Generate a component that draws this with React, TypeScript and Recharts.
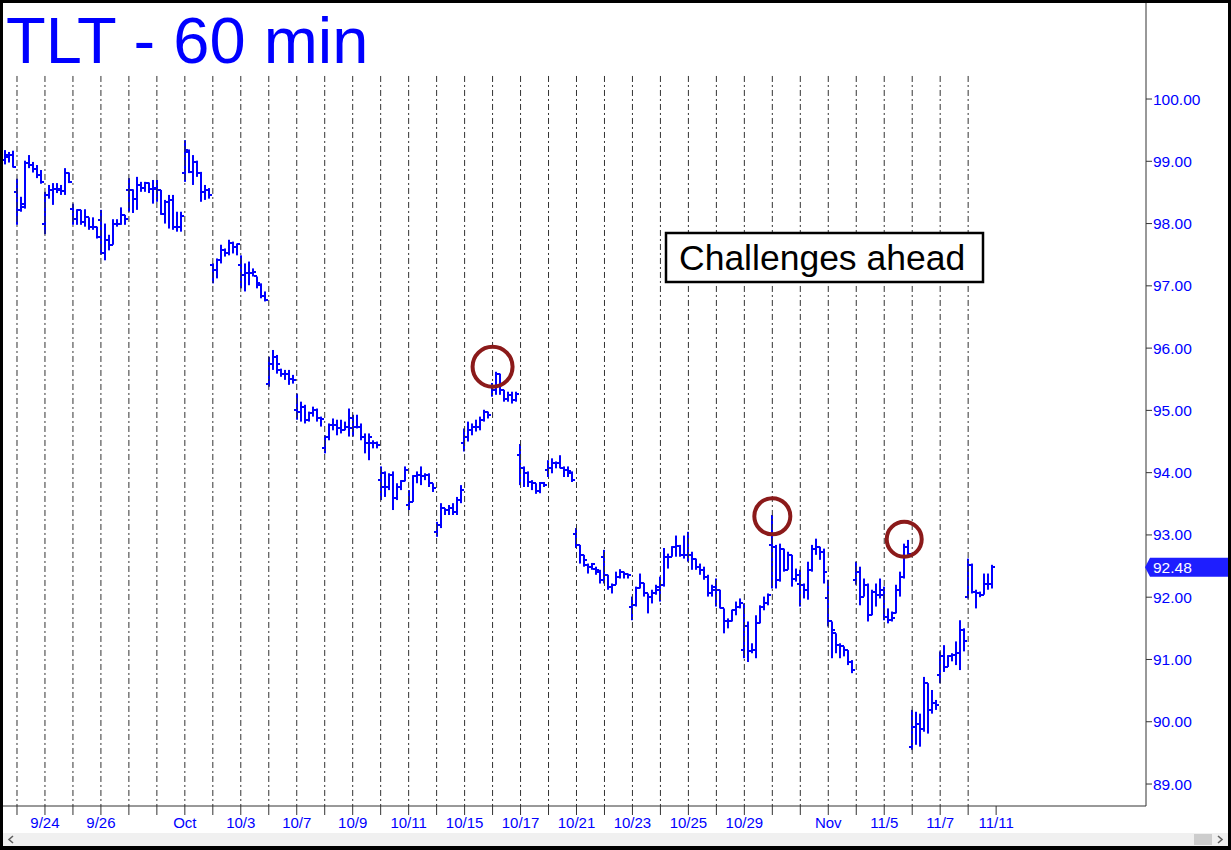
import React from 'react';
import { ComposedChart, Bar, XAxis, YAxis, ReferenceLine, ReferenceDot } from 'recharts';

const FONT = '"Liberation Sans", Arial, sans-serif';
const BLUE = '#0000ff';

// trading days on the axis (first one is 9/23; 3 bars of 9/20 precede it)
const dayDates = ['9/23','9/24','9/25','9/26','9/27','9/30','10/1','10/2','10/3','10/4','10/7','10/8','10/9','10/10','10/11','10/14','10/15','10/16','10/17','10/18','10/21','10/22','10/23','10/24','10/25','10/28','10/29','10/30','10/31','11/1','11/4','11/5','11/6','11/7','11/8','11/11'];
const axisLabels = ['','9/24','','9/26','','','Oct','','10/3','','10/7','','10/9','','10/11','','10/15','','10/17','','10/21','','10/23','','10/25','','10/29','','','Nov','','11/5','','11/7','','11/11'];

const opens = [
99.02,99.07,99.10,
98.50,98.22,98.27,98.97,98.94,98.87,98.78,
97.99,98.46,98.54,98.55,98.54,98.53,98.81,
98.24,98.08,98.21,98.03,98.10,97.94,97.95,
98.06,97.52,97.74,97.66,98.00,98.00,98.14,
98.54,98.54,98.40,98.62,98.57,98.65,98.55,
98.57,98.54,98.16,98.34,98.38,97.95,97.95,
98.81,99.15,98.83,98.99,98.81,98.51,98.54,
97.34,97.26,97.41,97.58,97.52,97.68,97.63,
97.34,97.17,97.20,97.20,97.15,97.01,96.83,
95.43,95.75,95.86,95.65,95.59,95.59,95.51,
95.01,94.98,95.06,94.85,94.95,95.01,94.87,
94.39,94.58,94.77,94.77,94.71,94.68,94.73,
94.87,94.74,94.73,94.58,94.47,94.47,94.47,
93.88,93.77,93.77,93.96,93.59,93.77,93.86,
93.48,93.53,93.94,93.96,93.94,93.96,93.83,
93.05,93.16,93.43,93.40,93.43,93.37,93.56,
94.47,94.58,94.68,94.73,94.74,94.85,94.98,
95.38,95.33,95.59,95.33,95.19,95.25,95.17,
94.28,94.07,93.99,93.85,93.83,93.70,93.83,
94.04,94.07,94.15,94.15,94.07,94.04,93.99,
93.02,92.84,92.68,92.52,92.49,92.46,92.41,
92.65,92.36,92.17,92.20,92.33,92.41,92.38,
91.85,91.87,92.14,92.23,92.06,92.01,92.06,
92.17,92.20,92.65,92.65,92.81,92.82,92.68,
92.68,92.68,92.62,92.49,92.44,92.33,92.06,
92.17,92.12,91.82,91.61,91.61,91.80,91.85,
91.16,91.53,91.13,91.15,91.58,91.85,91.90,
92.84,92.81,92.28,92.78,92.44,92.68,92.30,
92.22,92.20,92.12,92.44,92.78,92.81,92.73,
91.98,91.61,91.42,91.23,91.21,91.15,90.96,
92.28,92.41,92.01,92.20,91.71,92.09,92.04,
92.12,91.69,91.63,91.74,92.12,92.33,92.81,
89.60,89.92,89.97,89.89,90.62,90.19,90.30,
90.75,91.05,90.88,91.05,91.07,91.10,91.47,
92.00,92.52,92.09,92.06,92.04,92.22,92.22
];
const highs = [
99.18,99.15,99.17,
98.72,98.43,99.01,99.10,98.99,98.94,98.86,
98.51,98.62,98.65,98.65,98.62,98.89,98.82,
98.32,98.23,98.22,98.23,98.10,98.10,97.95,
98.22,98.00,97.82,98.07,98.07,98.26,98.14,
98.73,98.55,98.75,98.67,98.67,98.66,98.70,
98.70,98.54,98.38,98.46,98.46,98.19,98.19,
99.34,99.19,99.10,99.01,98.83,98.62,98.57,
97.36,97.44,97.66,97.60,97.74,97.71,97.68,
97.49,97.36,97.39,97.28,97.15,97.04,96.91,
95.86,95.97,95.89,95.67,95.65,95.65,95.57,
95.27,95.14,95.09,94.98,95.06,95.03,94.90,
94.60,94.79,94.87,94.85,94.85,94.82,95.03,
94.93,94.93,94.79,94.63,94.63,94.52,94.50,
94.10,94.02,93.99,94.02,93.83,93.88,94.10,
93.72,93.96,94.02,94.10,93.99,93.99,93.83,
93.21,93.51,93.43,93.48,93.51,93.61,93.80,
94.71,94.82,94.79,94.85,94.90,95.01,94.98,
95.44,95.62,95.59,95.33,95.30,95.30,95.30,
94.46,94.10,94.02,93.88,93.83,93.85,93.85,
94.20,94.23,94.18,94.28,94.10,94.10,94.02,
93.11,92.84,92.68,92.54,92.55,92.49,92.44,
92.76,92.36,92.22,92.41,92.45,92.41,92.38,
92.01,92.17,92.38,92.23,92.06,92.12,92.20,
92.33,92.79,92.70,92.82,92.99,92.84,92.99,
93.05,92.73,92.62,92.54,92.49,92.36,92.20,
92.30,92.12,91.82,91.66,91.80,91.93,91.98,
91.90,91.61,91.26,91.71,91.87,92.01,92.06,
93.32,92.84,92.86,92.78,92.73,92.68,92.46,
92.44,92.22,92.57,92.84,92.94,92.81,92.78,
92.28,91.61,91.42,91.26,91.21,91.15,90.99,
92.57,92.49,92.30,92.22,92.12,92.22,92.30,
92.17,91.82,91.77,92.20,92.41,92.86,92.92,
90.19,90.16,90.13,90.72,90.62,90.51,90.35,
91.13,91.23,91.07,91.10,91.29,91.63,91.50,
92.62,92.54,92.12,92.09,92.38,92.38,92.52
];
const lows = [
98.95,98.98,98.90,
97.98,98.19,98.24,98.89,98.82,98.73,98.64,
97.83,98.40,98.30,98.49,98.46,98.46,98.65,
97.98,97.98,97.98,97.95,97.90,97.90,97.76,
97.50,97.41,97.57,97.66,97.95,97.98,97.98,
98.19,98.17,98.22,98.51,98.51,98.49,98.32,
98.35,98.14,98.00,97.92,97.90,97.87,97.87,
98.67,98.81,98.62,98.75,98.35,98.38,98.40,
97.04,97.12,97.36,97.47,97.49,97.52,97.49,
96.96,96.91,97.01,97.15,96.96,96.80,96.75,
95.38,95.65,95.59,95.54,95.49,95.41,95.43,
94.85,94.82,94.79,94.82,94.90,94.82,94.74,
94.31,94.52,94.68,94.60,94.63,94.68,94.58,
94.58,94.71,94.52,94.31,94.20,94.39,94.39,
93.56,93.61,93.72,93.40,93.56,93.72,93.86,
93.40,93.53,93.83,93.80,93.88,93.77,93.69,
92.97,93.11,93.32,93.32,93.32,93.32,93.51,
94.34,94.50,94.60,94.66,94.68,94.82,94.87,
95.22,95.25,95.25,95.14,95.14,95.11,95.14,
93.80,93.77,93.77,93.72,93.66,93.67,93.77,
93.93,93.99,94.07,94.07,93.93,93.93,93.85,
92.79,92.54,92.49,92.38,92.44,92.36,92.22,
92.22,92.12,92.06,92.20,92.30,92.30,92.30,
91.63,91.85,92.14,92.01,91.74,91.90,92.04,
91.93,92.17,92.46,92.65,92.65,92.65,92.62,
92.57,92.44,92.44,92.36,92.28,92.01,92.01,
91.85,91.82,91.42,91.50,91.61,91.71,91.82,
91.02,90.96,91.10,91.02,91.58,91.79,91.87,
92.14,92.14,92.25,92.41,92.44,92.17,92.25,
91.85,91.98,91.96,92.41,92.68,92.60,92.22,
91.53,91.02,91.10,91.02,91.05,90.91,90.78,
92.20,91.87,92.01,91.61,91.71,91.85,91.98,
91.63,91.58,91.61,91.74,92.01,92.30,92.68,
89.55,89.63,89.60,89.84,89.81,90.13,90.19,
90.62,90.80,90.88,90.97,90.91,90.83,91.13,
91.98,92.06,91.82,92.00,92.04,92.12,92.14
];
const closes = [
99.10,99.10,98.91,
98.22,98.32,98.97,98.94,98.87,98.78,98.67,
98.46,98.54,98.55,98.55,98.53,98.81,98.67,
98.08,98.21,98.03,98.10,97.94,97.95,97.79,
97.52,97.74,97.66,98.00,98.00,98.14,98.07,
98.54,98.40,98.62,98.57,98.65,98.55,98.55,
98.54,98.16,98.34,98.38,97.95,97.95,98.12,
99.18,98.83,98.99,98.81,98.51,98.54,98.46,
97.26,97.41,97.58,97.52,97.68,97.63,97.67,
97.17,97.20,97.20,97.23,97.04,96.83,96.77,
95.75,95.86,95.75,95.59,95.59,95.51,95.49,
94.98,95.06,94.85,94.95,95.01,94.87,94.86,
94.58,94.77,94.77,94.71,94.68,94.73,94.71,
94.74,94.73,94.58,94.47,94.58,94.47,94.44,
93.99,93.77,93.96,93.59,93.77,93.86,94.04,
93.53,93.94,93.96,93.94,93.96,93.83,93.75,
93.16,93.43,93.40,93.43,93.37,93.56,93.72,
94.58,94.68,94.73,94.74,94.85,94.98,94.93,
95.33,95.59,95.33,95.19,95.25,95.17,95.27,
94.07,93.99,93.85,93.83,93.70,93.83,93.80,
94.07,94.15,94.15,94.07,94.04,94.02,93.88,
92.84,92.68,92.60,92.49,92.54,92.44,92.28,
92.36,92.17,92.20,92.33,92.41,92.38,92.36,
91.87,92.14,92.23,92.06,92.01,92.06,92.12,
92.20,92.65,92.65,92.81,92.82,92.68,92.68,
92.68,92.62,92.49,92.44,92.33,92.06,92.12,
92.12,91.82,91.61,91.61,91.80,91.85,91.90,
91.53,91.13,91.15,91.58,91.85,91.90,92.04,
92.81,92.28,92.78,92.44,92.68,92.30,92.36,
92.20,92.12,92.44,92.78,92.81,92.73,92.41,
91.61,91.47,91.23,91.21,91.15,90.96,90.83,
92.41,92.01,92.20,91.71,92.09,92.04,92.04,
91.69,91.63,91.66,92.12,92.33,92.81,92.70,
89.92,89.97,89.89,90.62,90.19,90.30,90.27,
91.05,90.88,91.05,91.07,91.10,91.47,91.30,
92.52,92.09,92.06,92.04,92.22,92.22,92.48
];

const priceTicks = [89, 90, 91, 92, 93, 94, 95, 96, 97, 98, 99, 100];
const callouts = [
  { bar: 122, price: 95.70, r: 20 },
  { bar: 192, price: 93.30, r: 18 },
  { bar: 225, price: 92.93, r: 17.5 },
];

const LEAD = 3;          // bars of 9/20 before the first day line
const PER_DAY = 7;       // hourly bars per session
const SLOTS = 286;       // bar slots across the plot (incl. empty future space)
const Y_DOMAIN: [number, number] = [88.647, 101.542];
const GRID_TOP = 100.37;

const data = Array.from({ length: SLOTS }, (_, i) =>
  i < opens.length
    ? { i, range: [lows[i], highs[i]], o: opens[i], h: highs[i], l: lows[i], c: closes[i] }
    : { i, range: null }
);

const dayStarts = dayDates.map((_, k) => LEAD + PER_DAY * k);
const lineDays = dayStarts.filter((s) => s < opens.length);
const lastIdx = opens.length - 1;
const lastClose = closes[lastIdx];

const OHLCShape = (props: any) => {
  const { x, y, width, height } = props;
  const p = props.payload || props;
  if (p == null || p.h == null) return null;
  const cx = Math.round(x + width / 2);
  const top = Math.min(y, y + height);
  const bot = Math.max(y, y + height);
  const span = p.h - p.l || 1;
  const oy = top + ((p.h - p.o) / span) * (bot - top);
  const cy = top + ((p.h - p.c) / span) * (bot - top);
  return (
    <g>
      <rect x={cx - 1} y={top} width={2} height={Math.max(bot - top, 1)} fill={BLUE} />
      <rect x={cx - 3} y={Math.round(oy) - 1} width={3} height={2} fill={BLUE} />
      <rect x={cx} y={Math.round(cy) - 1} width={3} height={2} fill={BLUE} />
    </g>
  );
};

const XTick = (props: any) => {
  const { x, y, payload } = props;
  const idx = Number(payload && payload.value);
  const k = (idx - LEAD) / PER_DAY;
  if (!Number.isInteger(k) || k < 0 || k >= dayDates.length) return <g />;
  const label = axisLabels[k];
  return (
    <g>
      <line x1={x} x2={x} y1={y} y2={y + 9} stroke="#333" strokeWidth={1} />
      {label ? (
        <text x={x} y={y + 22} textAnchor="middle" fill={BLUE} fontSize={15} fontFamily={FONT}>
          {label}
        </text>
      ) : null}
    </g>
  );
};

const PriceMarker = (props: any) => {
  const { cy } = props;
  const top = cy - 9.5;
  const bot = cy + 9.5;
  return (
    <g>
      <polygon points={`1145,${cy} 1150,${top} 1228,${top} 1228,${bot} 1150,${bot}`} fill="#1e1eff" />
      <text x={1153} y={cy + 5.5} fill="#ffffff" fontSize={15.5} fontFamily={FONT}>
        {lastClose.toFixed(2)}
      </text>
    </g>
  );
};

export default function App() {
  return (
    <div style={{ position: 'absolute', left: 0, top: 0, width: 1231, height: 850, background: '#fff', overflow: 'hidden' }}>
      <ComposedChart width={1231} height={850} data={data} margin={{ top: 3, right: 3, bottom: 14, left: 3 }}>
        <XAxis
          dataKey="i"
          type="category"
          interval={0}
          tickSize={0}
          tickMargin={0}
          tickLine={false}
          axisLine={{ stroke: '#333' }}
          tick={<XTick />}
          height={30}
        />
        <YAxis
          orientation="right"
          domain={Y_DOMAIN}
          ticks={priceTicks}
          allowDataOverflow
          interval={0}
          width={82}
          tickSize={6}
          tickMargin={1}
          tickFormatter={(v: number) => v.toFixed(2)}
          tick={{ fill: BLUE, fontSize: 15.5, fontFamily: FONT }}
          axisLine={{ stroke: '#333' }}
          tickLine={{ stroke: '#333' }}
        />
        {lineDays.map((s) => (
          <ReferenceLine
            key={'d' + s}
            segment={[{ x: s, y: GRID_TOP }, { x: s, y: Y_DOMAIN[0] }]}
            stroke="#333"
            strokeWidth={1}
            strokeDasharray="6 3 2 3"
            ifOverflow="extendDomain"
          />
        ))}
        <Bar dataKey="range" shape={<OHLCShape />} isAnimationActive={false} />
        {callouts.map((c) => (
          <ReferenceDot
            key={'c' + c.bar}
            x={c.bar}
            y={c.price}
            r={c.r}
            fill="none"
            stroke="#8B1A1A"
            strokeWidth={4}
          />
        ))}
        <ReferenceDot x={lastIdx} y={lastClose} r={0} shape={<PriceMarker />} />
      </ComposedChart>
      <svg width={1231} height={850} style={{ position: 'absolute', left: 0, top: 0, pointerEvents: 'none' }}>
        <text x={6} y={63} fill={BLUE} fontSize={65} fontFamily={FONT}>TLT - 60 min</text>
        <rect x={666} y={233} width={317} height={49} fill="#fff" stroke="#000" strokeWidth={2.5} />
        <text x={679} y={270} fill="#000" fontSize={35.5} fontFamily={FONT}>Challenges ahead</text>
        <rect x={3} y={833} width={1225} height={13} fill="#f0f0f0" />
        <rect x={1194} y={834} width={18} height={11} fill="#cdcdcd" />
        <polyline points="13,836 9,839.5 13,843" fill="none" stroke="#606060" strokeWidth={1.6} />
        <polyline points="1218,836 1222,839.5 1218,843" fill="none" stroke="#606060" strokeWidth={1.6} />
        <rect x={0} y={0} width={1231} height={3} fill="#000" />
        <rect x={0} y={0} width={3} height={850} fill="#000" />
        <rect x={1228} y={0} width={3} height={850} fill="#000" />
        <rect x={0} y={846} width={1231} height={4} fill="#000" />
      </svg>
    </div>
  );
}
